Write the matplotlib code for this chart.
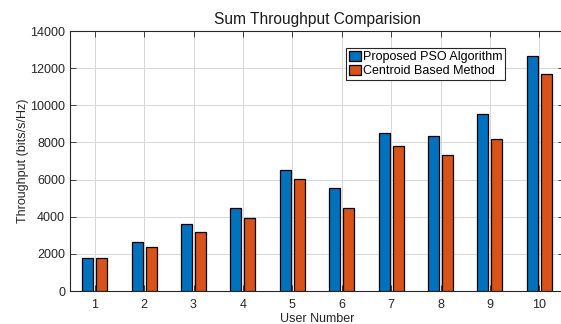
import numpy as np
import matplotlib
matplotlib.use("Agg")
import matplotlib.pyplot as plt

plt.rcParams['font.family'] = ['Liberation Sans', 'DejaVu Sans']

# data
users = [1, 2, 3, 4, 5, 6, 7, 8, 9, 10]
pso = [1760, 2620, 3610, 4450, 6500, 5550, 8490, 8350, 9510, 12650]
centroid = [1760, 2370, 3180, 3910, 6010, 4470, 7820, 7300, 8170, 11700]
labels = ['Proposed PSO Algorithm', 'Centroid Based Method']

fig = plt.figure(figsize=(5.61, 3.24), dpi=100)
ax = fig.add_axes([70 / 561, 33 / 324, 494 / 561, 260 / 324])

x = np.array(users)
ax.bar(x - 0.142, pso, width=0.223, color='#0072BD', edgecolor='black',
       linewidth=0.9, label=labels[0], zorder=3)
ax.bar(x + 0.142, centroid, width=0.223, color='#D95319', edgecolor='black',
       linewidth=0.9, label=labels[1], zorder=3)

ax.set_xlim(0.5, 10.5)
ax.set_ylim(0, 14000)
ax.set_xticks(users)
ax.set_yticks(np.arange(0, 14001, 2000))
ax.tick_params(direction='in', top=True, right=True, labelsize=9, length=4,
               width=0.6, colors='#262626')
ax.tick_params(axis='x', pad=5.5)
ax.grid(True, color='#d6d6d6', linewidth=0.7, zorder=0)
for s in ax.spines.values():
    s.set_linewidth(0.8)
    s.set_color('#262626')

ax.set_title('Sum Throughput Comparision', fontsize=11.2, color='#1a1a1a', pad=5)
ax.set_xlabel('User Number', fontsize=9, color='#262626', labelpad=1.5)
ax.set_ylabel('Throughput (bits/s/Hz)', fontsize=9, color='#262626', labelpad=1)

leg = ax.legend(loc='upper left', bbox_to_anchor=(0.558, 0.935), fontsize=9,
                handlelength=1.0, handleheight=0.8, handletextpad=0.1,
                borderpad=0.25, labelspacing=0.15, borderaxespad=0,
                fancybox=False, framealpha=1, edgecolor='#262626')
leg.get_frame().set_linewidth(0.8)

fig.savefig('out.png', dpi=100)
